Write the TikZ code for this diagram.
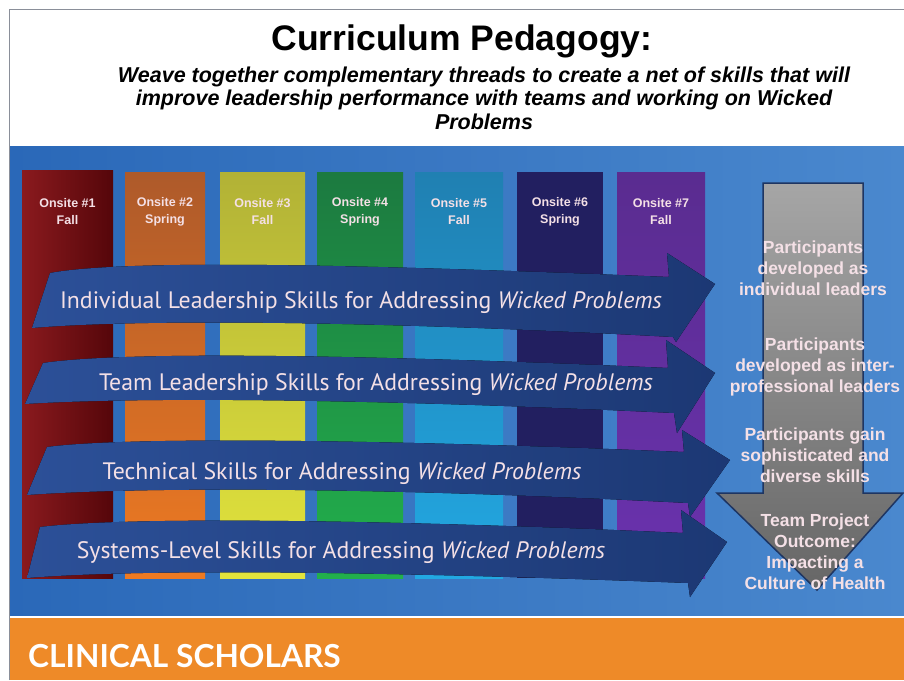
\documentclass[tikz,border=0pt]{standalone}
\usepackage{fontspec}
\setmainfont{Liberation Sans}
\newfontfamily\ribbonfont{PT Sans}
\newfontfamily\brandfont{Lato}
\usepackage{tikz}
\usetikzlibrary{positioning}

\definecolor{bandL}{HTML}{2A68B8}
\definecolor{bandR}{HTML}{4A88CE}
\definecolor{ribbonL}{HTML}{2C5098}
\definecolor{ribbonR}{HTML}{1C3874}
\definecolor{orangebar}{HTML}{EE8A28}
\definecolor{paletext}{HTML}{F4E0E6}
\definecolor{frameline}{HTML}{8A8F99}
\definecolor{outline}{HTML}{1E3562}
% onsite column colours
\definecolor{osoneL}{HTML}{8A1A1E}
\definecolor{osoneR}{HTML}{55060A}
\definecolor{ostwoT}{HTML}{AE5A2A}
\definecolor{ostwoB}{HTML}{EE7A22}
\definecolor{osthreeT}{HTML}{B2B236}
\definecolor{osthreeB}{HTML}{E2E43C}
\definecolor{osfourT}{HTML}{1C7A40}
\definecolor{osfourB}{HTML}{22B04C}
\definecolor{osfiveT}{HTML}{2080B2}
\definecolor{osfiveB}{HTML}{22A8E2}
\definecolor{ossix}{HTML}{221F60}
\definecolor{ossevenT}{HTML}{5A2C90}
\definecolor{ossevenB}{HTML}{6A32AE}

\begin{document}
\begin{tikzpicture}[
    x=1pt, y=-1pt,
    onsite label/.style={align=center, text=paletext, inner sep=0pt,
        font=\bfseries\fontsize{12.5}{17}\selectfont},
    thread/.style={text=paletext, inner sep=0pt,
        font=\ribbonfont\fontsize{23.8}{28}\selectfont},
    outcome/.style={align=center, text=paletext, inner sep=0pt,
        font=\bfseries\fontsize{17.5}{21}\selectfont},
    ribbon/.style={left color=ribbonL, right color=ribbonR}
]
    \useasboundingbox (0,0) rectangle (904,680);
    \fill[white] (0,0) rectangle (904,680);

    % Title block
    \node[font=\bfseries\fontsize{35.5}{40}\selectfont] (title) at (462,41) {Curriculum Pedagogy:};
    \node[align=center, font=\bfseries\itshape\fontsize{21.5}{23.5}\selectfont] (subtitle) at (484,98)
        {Weave together complementary threads to create a net of skills that will\\
         improve leadership performance with teams and working on Wicked\\
         Problems};

    % Blue band and orange footer
    \fill[left color=bandL, right color=bandR] (9,146) rectangle (904,615);
    \fill[orangebar] (9,618) rectangle (904,680);

    % Onsite columns
    \fill[left color=osoneL, right color=osoneR] (22,170) rectangle (113,578);
    \fill[top color=ostwoT, bottom color=ostwoB] (125,172) rectangle (205,578);
    \fill[top color=osthreeT, bottom color=osthreeB] (220,172) rectangle (305,578);
    \fill[top color=osfourT, bottom color=osfourB] (317,172) rectangle (403,578);
    \fill[top color=osfiveT, bottom color=osfiveB] (415,172) rectangle (503,578);
    \fill[ossix] (517,172) rectangle (603,578);
    \fill[top color=ossevenT, bottom color=ossevenB] (617,172) rectangle (705,578);

    \node[onsite label] (h1) at (67.5,211.5) {Onsite \#1\\Fall};
    \node[onsite label] (h2) at (165,211.5) {Onsite \#2\\Spring};
    \node[onsite label] (h3) at (262.5,211.5) {Onsite \#3\\Fall};
    \node[onsite label] (h4) at (360,211.5) {Onsite \#4\\Spring};
    \node[onsite label] (h5) at (459,211.5) {Onsite \#5\\Fall};
    \node[onsite label] (h6) at (560,211.5) {Onsite \#6\\Spring};
    \node[onsite label] (h7) at (661,211.5) {Onsite \#7\\Fall};

    % Outcome arrow
    \draw[outline, line width=1.5pt, top color=gray!70!white, bottom color=gray!80!black]
        (763,183) -- (863,183) -- (863,493) -- (903,493) -- (817,590)
        -- (717,493) -- (763,493) -- cycle;
    \node[outcome] (o1) at (813,268) {Participants\\developed as\\individual leaders};
    \node[outcome] (o2) at (815,367) {Participants\\developed as inter-\\professional leaders};
    \node[outcome] (o3) at (815,455) {Participants gain\\sophisticated and\\diverse skills};
    \node[outcome] (o4) at (815,552) {Team Project\\Outcome:\\Impacting a\\Culture of Health};

    % Threads
    \fill[ribbon] (50,273) .. controls (130,258) and (400,266) .. (669,277)
        -- (667,253) -- (715,284) -- (676,342) -- (673,337)
        .. controls (400,322) and (150,318) .. (32,328) -- cycle;
    \fill[ribbon] (43,363) .. controls (130,350) and (400,356) .. (668,368)
        -- (666,340) -- (715,373) -- (677,433) -- (674,413)
        .. controls (400,400) and (150,396) .. (25,404) -- cycle;
    \fill[ribbon] (47,447) .. controls (130,436) and (400,440) .. (684,452)
        -- (682,430) -- (730,460) -- (690,517) -- (688,503)
        .. controls (400,488) and (150,486) .. (27,495) -- cycle;
    \fill[ribbon] (40,527) .. controls (130,516) and (400,520) .. (683,533)
        -- (681,510) -- (727,542) -- (690,597) -- (688,583)
        .. controls (400,572) and (150,568) .. (27,578) -- cycle;

    \node[thread] (t1) at (361,303) {Individual Leadership Skills for Addressing \textit{Wicked Problems}};
    \node[thread] (t2) at (376,385) {Team Leadership Skills for Addressing \textit{Wicked Problems}};
    \node[thread] (t3) at (342,474) {Technical Skills for Addressing \textit{Wicked Problems}};
    \node[thread] (t4) at (341,553) {Systems-Level Skills for Addressing \textit{Wicked Problems}};

    % Footer text
    \node[anchor=west, text=white, inner sep=0pt,
        font=\brandfont\bfseries\fontsize{31.7}{36}\selectfont] (brand) at (28,656) {CLINICAL SCHOLARS};

    % Frame
    \draw[frameline, line width=1pt] (9,680) -- (9,9) -- (904,9);
\end{tikzpicture}
\end{document}
